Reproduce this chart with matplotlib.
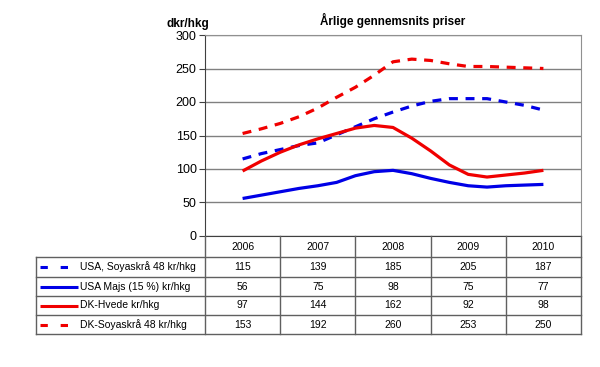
import matplotlib
matplotlib.use('Agg')
import matplotlib.pyplot as plt
from matplotlib.lines import Line2D

plt.rcParams['font.family'] = ['Liberation Sans', 'DejaVu Sans']

# table values
years = ['2006', '2007', '2008', '2009', '2010']
usa_soya = [115, 139, 185, 205, 187]
usa_majs = [56, 75, 98, 75, 77]
dk_hvede = [97, 144, 162, 92, 98]
dk_soya = [153, 192, 260, 253, 250]

# line values, quarterly (0 = 2006, 4 = 2010)
quarters = [0, 0.25, 0.5, 0.75, 1, 1.25, 1.5, 1.75, 2, 2.25, 2.5, 2.75, 3, 3.25, 3.5, 3.75, 4]
usa_soya_q = [115, 123, 129, 135, 139, 151, 163, 175, 185, 194, 201, 205, 205, 205, 200, 195, 188]
usa_majs_q = [56, 61, 66, 71, 75, 80, 90, 96, 98, 93, 86, 80, 75, 73, 75, 76, 77]
dk_hvede_q = [97, 112, 125, 136, 145, 153, 161, 165, 162, 146, 127, 106, 92, 88, 91, 94, 98]
dk_soya_q = [153, 160, 168, 178, 191, 207, 222, 240, 260, 264, 262, 257, 253, 253, 252, 251, 250]

labels = ['USA, Soyaskrå 48 kr/hkg', 'USA Majs (15 %) kr/hkg', 'DK-Hvede kr/hkg', 'DK-Soyaskrå 48 kr/hkg']
blue = '#0000E6'
red = '#F00000'
colors = [blue, blue, red, red]
dashed = [True, False, False, True]

W, H = 600, 367
fig = plt.figure(figsize=(6, 3.67), dpi=100)

L, R, T, B = 205, 581, 35, 236
ax = fig.add_axes([L / W, 1 - B / H, (R - L) / W, (B - T) / H])

series = [usa_soya_q, usa_majs_q, dk_hvede_q, dk_soya_q]
for vals, c, d in zip(series, colors, dashed):
    ls = (0, (2.8, 2.4)) if d else '-'
    ax.plot(quarters, vals, color=c, lw=2.3, ls=ls, solid_capstyle='butt', zorder=3)

ax.set_xlim(-0.5, 4.5)
ax.set_ylim(0, 300)
ax.set_yticks(range(0, 301, 50))
ax.set_xticks([])
ax.yaxis.grid(True, color='#808080', lw=1)
ax.set_axisbelow(True)
ax.tick_params(axis='y', labelsize=9, length=4, color='#404040', pad=2)
for s in ['top', 'right']:
    ax.spines[s].set_color('#909090')
ax.spines['left'].set_color('#404040')
ax.spines['bottom'].set_color('#404040')

fig.text(393 / W, 1 - 20 / H, 'Årlige gennemsnits priser', fontsize=8.5, fontweight='bold', ha='center', va='center')
fig.text(188 / W, 1 - 24 / H, 'dkr/hkg', fontsize=8.5, fontweight='bold', ha='center', va='center')

# table under the plot
def hline(x0, x1, y):
    fig.add_artist(Line2D([x0 / W, x1 / W], [1 - y / H, 1 - y / H], color='#606060', lw=1))

def vline(x, y0, y1):
    fig.add_artist(Line2D([x / W, x / W], [1 - y0 / H, 1 - y1 / H], color='#606060', lw=1))

row_y = [236, 257, 277, 296, 315, 334]
col_w = (R - L) / 5
lab_x0 = 36
for y in row_y[1:]:
    hline(lab_x0, R, y)
vline(lab_x0, row_y[1], row_y[-1])
for i in range(6):
    vline(L + i * col_w, row_y[0], row_y[-1])

for i, yr in enumerate(years):
    fig.text((L + (i + 0.5) * col_w) / W, 1 - (row_y[0] + row_y[1]) / 2 / H, yr,
             fontsize=7.5, ha='center', va='center')

table_vals = [usa_soya, usa_majs, dk_hvede, dk_soya]
for r, (lab, vals, c, d) in enumerate(zip(labels, table_vals, colors, dashed)):
    yc = (row_y[r + 1] + row_y[r + 2]) / 2
    ls = (0, (2.4, 4.2)) if d else '-'
    fig.add_artist(Line2D([40 / W, 78 / W], [1 - yc / H, 1 - yc / H], color=c, lw=2.2, ls=ls,
                          solid_capstyle='butt'))
    fig.text(80 / W, 1 - yc / H, lab, fontsize=7.5, ha='left', va='center')
    for i, v in enumerate(vals):
        fig.text((L + (i + 0.5) * col_w) / W, 1 - yc / H, str(v), fontsize=7.5, ha='center', va='center')

fig.savefig('out.png', dpi=100)
